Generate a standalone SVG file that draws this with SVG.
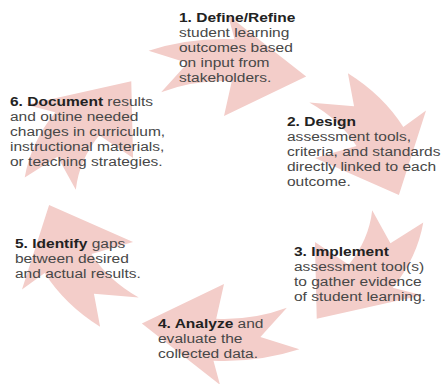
<svg xmlns="http://www.w3.org/2000/svg" width="445" height="384" viewBox="0 0 445 384">
  <style>
    .arrow { fill: #f3cdc9; }
    text { font-family: "Liberation Sans", Arial, Helvetica, sans-serif; font-size: 13.5px; fill: #474747; }
    .b { font-weight: bold; fill: #222222; }
  </style>
  <defs>
    <!-- one curved cycle arrow in a unit-circle frame: forked tail at 0deg, tip at 53deg -->
    <path id="cycleArrow" d="M0.85 0 A0.85 0.85 0 0 1 0.7505 0.399 L0.5438 0.2536 L0.6018 0.7986 L1.1864 0.5786 L1.0154 0.5399 A1.15 1.15 0 0 0 1.1484 0.0602 L0.9744 0.225 Z"/>
  </defs>
  <rect width="445" height="384" fill="#ffffff"/>

  <g id="connectors" class="arrow">
    <use href="#cycleArrow" transform="translate(224 200) scale(175 140) rotate(245)"/>
    <use href="#cycleArrow" transform="translate(224 200) scale(175 140) rotate(305)"/>
    <use href="#cycleArrow" transform="translate(224 200) scale(175 140) rotate(5)"/>
    <use href="#cycleArrow" transform="translate(224 200) scale(175 140) rotate(65)"/>
    <use href="#cycleArrow" transform="translate(224 200) scale(175 140) rotate(125)"/>
    <use href="#cycleArrow" transform="translate(224 200) scale(175 140) rotate(185)"/>
  </g>

  <g id="step1" transform="translate(179 0) scale(1.15 1)">
    <text y="21.7"><tspan class="b">1. Define/Refine</tspan></text>
    <text y="36.7">student learning</text>
    <text y="51.7">outcomes based</text>
    <text y="66.7">on input from</text>
    <text y="81.7">stakeholders.</text>
  </g>

  <g id="step2" transform="translate(287 0) scale(1.15 1)">
    <text y="126"><tspan class="b">2. Design</tspan></text>
    <text y="141">assessment tools,</text>
    <text y="156">criteria, and standards</text>
    <text y="171">directly linked to each</text>
    <text y="186">outcome.</text>
  </g>

  <g id="step3" transform="translate(294 0) scale(1.15 1)">
    <text y="256.5"><tspan class="b">3. Implement</tspan></text>
    <text y="271.5">assessment tool(s)</text>
    <text y="286.5">to gather evidence</text>
    <text y="301.5">of student learning.</text>
  </g>

  <g id="step4" transform="translate(158 0) scale(1.15 1)">
    <text y="328"><tspan class="b">4. Analyze</tspan> and</text>
    <text y="343">evaluate the</text>
    <text y="358">collected data.</text>
  </g>

  <g id="step5" transform="translate(15 0) scale(1.15 1)">
    <text y="248"><tspan class="b">5. Identify</tspan> gaps</text>
    <text y="263">between desired</text>
    <text y="278">and actual results.</text>
  </g>

  <g id="step6" transform="translate(10 0) scale(1.15 1)">
    <text y="106"><tspan class="b">6. Document</tspan> results</text>
    <text y="121">and outine needed</text>
    <text y="136">changes in curriculum,</text>
    <text y="151">instructional materials,</text>
    <text y="166">or teaching strategies.</text>
  </g>
</svg>
